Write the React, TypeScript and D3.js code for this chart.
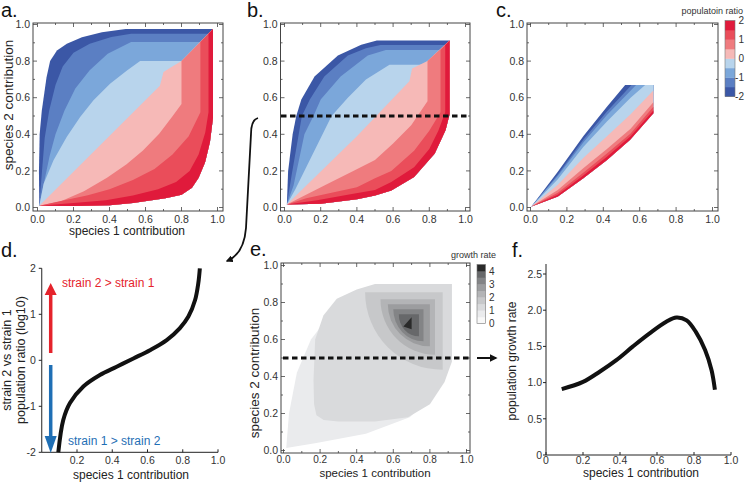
import React from "react";
import * as d3 from "d3";

type P = [number, number];
const FONT = "'Liberation Sans', Arial, Helvetica, sans-serif";

// ---------- colour scales ----------
const ratioColors = ["#3b57a6", "#5b7fc3", "#7ba7da", "#b8d4ec", "#f6b9b7", "#ef7b7e", "#ea4d5a", "#e01a3b"];
const ratioLegendTicks = [-2, -1, 0, 1, 2];
const growthColors = ["#f8f8f8", "#eaebed", "#d9dadc", "#c7c8ca", "#b3b4b6", "#9c9d9f", "#838486", "#67686a", "#2a2a2a"];
const growthLegendTicks = [0, 1, 2, 3, 4];
const unitTicks = [0, 0.2, 0.4, 0.6, 0.8, 1.0];

// ---------- panel a: contour boundaries (origin -> top-right corner) ----------
const aB0: P[] = [[0.01, 0.01], [0.008, 0.2], [0.012, 0.4], [0.024, 0.53], [0.05, 0.71], [0.07, 0.8], [0.108, 0.858], [0.163, 0.895], [0.247, 0.931], [0.358, 0.958], [0.49, 0.975], [0.975, 0.975]];
const aB1: P[] = [[0.01, 0.01], [0.025, 0.2], [0.04, 0.38], [0.065, 0.53], [0.1, 0.67], [0.14, 0.77], [0.2, 0.845], [0.29, 0.895], [0.41, 0.932], [0.52, 0.95], [0.95, 0.95], [0.975, 0.975]];
const aB2: P[] = [[0.01, 0.01], [0.035, 0.13], [0.067, 0.28], [0.1, 0.4], [0.15, 0.53], [0.21, 0.65], [0.29, 0.75], [0.39, 0.84], [0.52, 0.905], [0.905, 0.905], [0.975, 0.975]];
const aB3: P[] = [[0.01, 0.01], [0.034, 0.13], [0.089, 0.258], [0.163, 0.386], [0.237, 0.495], [0.311, 0.586], [0.403, 0.676], [0.497, 0.749], [0.57, 0.8], [0.8, 0.8], [0.975, 0.975]];
const aB4: P[] = [[0.01, 0.01], [0.68, 0.665], [0.7, 0.74], [0.74, 0.765], [0.8, 0.8], [0.975, 0.975]];
const aB5: P[] = [[0.01, 0.01], [0.13, 0.034], [0.258, 0.089], [0.386, 0.163], [0.495, 0.237], [0.586, 0.311], [0.676, 0.403], [0.749, 0.497], [0.8, 0.565], [0.8, 0.8], [0.975, 0.975]];
const aB6: P[] = [[0.01, 0.01], [0.13, 0.035], [0.28, 0.067], [0.4, 0.1], [0.53, 0.15], [0.65, 0.21], [0.75, 0.29], [0.84, 0.39], [0.905, 0.52], [0.905, 0.905], [0.975, 0.975]];
const aB7: P[] = [[0.01, 0.01], [0.2, 0.025], [0.38, 0.04], [0.53, 0.065], [0.67, 0.1], [0.77, 0.14], [0.845, 0.2], [0.895, 0.29], [0.932, 0.41], [0.95, 0.52], [0.95, 0.95], [0.975, 0.975]];
const aB8: P[] = [[0.01, 0.01], [0.2, 0.008], [0.4, 0.012], [0.53, 0.024], [0.71, 0.05], [0.8, 0.07], [0.858, 0.108], [0.895, 0.163], [0.931, 0.247], [0.958, 0.358], [0.975, 0.49], [0.975, 0.975]];

// ---------- panel b ----------
const bB0: P[] = [[0.013, 0.017], [0.02, 0.2], [0.045, 0.4], [0.065, 0.5], [0.093, 0.59], [0.166, 0.716], [0.295, 0.83], [0.424, 0.89], [0.51, 0.912], [0.912, 0.912]];
const bB1: P[] = [[0.013, 0.017], [0.04, 0.18], [0.075, 0.38], [0.096, 0.5], [0.14, 0.59], [0.22, 0.716], [0.35, 0.83], [0.45, 0.87], [0.53, 0.888], [0.888, 0.888], [0.912, 0.912]];
const bB2: P[] = [[0.013, 0.017], [0.05, 0.12], [0.08, 0.26], [0.11, 0.4], [0.16, 0.5], [0.2, 0.59], [0.31, 0.716], [0.46, 0.83], [0.56, 0.86], [0.86, 0.86], [0.912, 0.912]];
const bB3: P[] = [[0.013, 0.017], [0.06, 0.1], [0.12, 0.22], [0.2, 0.38], [0.26, 0.5], [0.35, 0.6], [0.45, 0.7], [0.58, 0.78], [0.77, 0.78], [0.79, 0.8], [0.912, 0.912]];
const bB4: P[] = [[0.013, 0.017], [0.4, 0.39], [0.69, 0.69], [0.705, 0.76], [0.79, 0.8], [0.912, 0.912]];
const bB5: P[] = [[0.013, 0.017], [0.1, 0.06], [0.22, 0.12], [0.38, 0.2], [0.5, 0.26], [0.6, 0.35], [0.7, 0.45], [0.79, 0.58], [0.79, 0.8], [0.912, 0.912]];
const bB6: P[] = [[0.013, 0.017], [0.12, 0.05], [0.26, 0.08], [0.4, 0.11], [0.5, 0.16], [0.59, 0.2], [0.716, 0.31], [0.8, 0.42], [0.862, 0.52], [0.862, 0.86], [0.912, 0.912]];
const bB7: P[] = [[0.013, 0.017], [0.18, 0.04], [0.38, 0.075], [0.5, 0.096], [0.59, 0.14], [0.716, 0.22], [0.8, 0.32], [0.85, 0.42], [0.888, 0.52], [0.888, 0.888], [0.912, 0.912]];
const bB8: P[] = [[0.013, 0.017], [0.2, 0.02], [0.4, 0.045], [0.5, 0.065], [0.59, 0.093], [0.716, 0.166], [0.83, 0.295], [0.89, 0.424], [0.912, 0.51], [0.912, 0.912]];

// ---------- panel c ----------
const cB0: P[] = [[0.005, 0.005], [0.15, 0.195], [0.29, 0.39], [0.42, 0.55], [0.52, 0.67], [0.675, 0.67]];
const cB1: P[] = [[0.005, 0.005], [0.15, 0.18], [0.29, 0.37], [0.42, 0.525], [0.555, 0.67], [0.675, 0.67]];
const cB2: P[] = [[0.005, 0.005], [0.15, 0.172], [0.29, 0.355], [0.42, 0.505], [0.58, 0.67], [0.675, 0.67]];
const cB3: P[] = [[0.005, 0.005], [0.15, 0.155], [0.29, 0.33], [0.42, 0.47], [0.55, 0.6], [0.63, 0.67], [0.675, 0.67]];
const cB4: P[] = [[0.005, 0.005], [0.15, 0.125], [0.29, 0.27], [0.42, 0.39], [0.55, 0.51], [0.675, 0.64], [0.675, 0.67]];
const cB5: P[] = [[0.005, 0.005], [0.15, 0.095], [0.29, 0.215], [0.42, 0.32], [0.55, 0.43], [0.675, 0.575], [0.675, 0.67]];
const cB6: P[] = [[0.005, 0.005], [0.15, 0.08], [0.29, 0.19], [0.42, 0.295], [0.55, 0.405], [0.675, 0.55], [0.675, 0.67]];
const cB7: P[] = [[0.005, 0.005], [0.15, 0.07], [0.29, 0.175], [0.42, 0.278], [0.55, 0.39], [0.675, 0.53], [0.675, 0.67]];
const cB8: P[] = [[0.005, 0.005], [0.15, 0.06], [0.29, 0.16], [0.42, 0.26], [0.547, 0.37], [0.675, 0.515], [0.675, 0.67]];

// ---------- panel d ----------
const dX = [0.094, 0.122, 0.16, 0.236, 0.33, 0.425, 0.52, 0.614, 0.709, 0.784, 0.832, 0.87, 0.888, 0.897];
const dY = [-2.0, -1.3, -0.93, -0.57, -0.32, -0.14, 0.04, 0.22, 0.44, 0.7, 0.95, 1.31, 1.67, 2.0];
const dYTicks = [-2, -1, 0, 1, 2];
const dXTicks = [0.2, 0.4, 0.6, 0.8, 1.0];

// ---------- panel e: growth-rate contours ----------
const eL1: P[] = [[0.015, 0.013], [0.03, 0.2], [0.073, 0.42], [0.15, 0.6], [0.29, 0.78], [0.42, 0.87], [0.51, 0.9], [0.92, 0.9], [0.92, 0.51], [0.85, 0.33], [0.69, 0.18], [0.45, 0.09], [0.18, 0.04]];
const eL2: P[] = [[0.164, 0.38], [0.173, 0.6], [0.218, 0.73], [0.291, 0.82], [0.4, 0.87], [0.5, 0.9], [0.92, 0.9], [0.92, 0.48], [0.88, 0.37], [0.8, 0.25], [0.68, 0.18], [0.5, 0.157], [0.3, 0.157], [0.22, 0.165], [0.18, 0.19], [0.167, 0.25]];
// quarter-shaped inner contours: left, top, right, bottom
const eLeft = [0.446, 0.53, 0.57, 0.6, 0.63];
const eTop = [0.855, 0.818, 0.79, 0.763, 0.736];
const eRight = [0.87, 0.828, 0.8, 0.765, 0.74];
const eBottom = [0.436, 0.517, 0.563, 0.59, 0.617];
const ePeak: P[] = [[0.655, 0.67], [0.7, 0.72], [0.7, 0.655]];

// ---------- panel f ----------
const fX = [0.085, 0.2, 0.29, 0.38, 0.47, 0.56, 0.65, 0.705, 0.76, 0.81, 0.86, 0.895, 0.913];
const fY = [0.91, 1.01, 1.15, 1.31, 1.5, 1.68, 1.84, 1.9, 1.86, 1.7, 1.45, 1.17, 0.9];
const fYTicks = [0, 0.5, 1.0, 1.5, 2.0, 2.5];
const fXTicks = [0, 0.2, 0.4, 0.6, 0.8, 1.0];

type Lin = d3.ScaleLinear<number, number>;

function bandPaths(bounds: P[][], xs: Lin, ys: Lin) {
  const line = d3.line<P>().x((d) => xs(d[0])).y((d) => ys(d[1]));
  const outer = bounds[bounds.length - 1];
  return bounds.slice(0, -1).map((b) => line([...b, ...outer.slice().reverse()]) + "Z");
}

function Frame({ xs, ys, box, lab, fs }: { xs: Lin; ys: Lin; box: [number, number, number, number]; lab: number; fs: number }) {
  const [x0, x1, y0, y1] = box;
  const minor = d3.range(0, 1.0001, 0.1);
  return (
    <g>
      {minor.map((t, i) => {
        const L = i % 2 === 0 ? 4 : 2;
        return (
          <g key={i} stroke="#444" strokeWidth={0.8}>
            <line x1={xs(t)} x2={xs(t)} y1={y1} y2={y1 - L} />
            <line x1={xs(t)} x2={xs(t)} y1={y0} y2={y0 + L} />
            <line y1={ys(t)} y2={ys(t)} x1={x0} x2={x0 + L} />
            <line y1={ys(t)} y2={ys(t)} x1={x1} x2={x1 - L} />
          </g>
        );
      })}
      <rect x={x0} y={y0} width={x1 - x0} height={y1 - y0} fill="none" stroke="#444" strokeWidth={1} />
      {unitTicks.map((t) => (
        <text key={"x" + t} x={xs(t)} y={y1 + lab} fontSize={fs} textAnchor="middle" fill="#333">
          {t.toFixed(1)}
        </text>
      ))}
      {unitTicks.map((t) => (
        <text key={"y" + t} x={x0 - 3} y={ys(t) + 3.7} fontSize={10.5} textAnchor="end" fill="#333">
          {t.toFixed(1)}
        </text>
      ))}
    </g>
  );
}

export default function App() {
  const axA = d3.scaleLinear().domain([0, 1]).range([37.5, 217.5]);
  const ayA = d3.scaleLinear().domain([0, 1]).range([207.5, 24.5]);
  const axB = d3.scaleLinear().domain([0, 1]).range([284.5, 465.5]);
  const axC = d3.scaleLinear().domain([0, 1]).range([530.5, 712.5]);
  const axE = d3.scaleLinear().domain([0, 1]).range([283.5, 466.5]);
  const ayE = d3.scaleLinear().domain([0, 1]).range([450.5, 265.5]);
  const xD = d3.scaleLinear().domain([0, 1]).range([41.75, 218]);
  const yD = d3.scaleLinear().domain([-2, 2]).range([452.3, 268.3]);
  const xF = d3.scaleLinear().domain([0, 1]).range([546, 731]);
  const yF = d3.scaleLinear().domain([0, 2.5]).range([455, 274]);

  const aPaths = bandPaths([aB0, aB1, aB2, aB3, aB4, aB5, aB6, aB7, aB8], axA, ayA);
  const bPaths = bandPaths([bB0, bB1, bB2, bB3, bB4, bB5, bB6, bB7, bB8], axB, ayA);
  const cPaths = bandPaths([cB0, cB1, cB2, cB3, cB4, cB5, cB6, cB7, cB8], axC, ayA);

  const polyE = d3.line<P>().x((d) => axE(d[0])).y((d) => ayE(d[1])).curve(d3.curveLinearClosed);
  const quarter = (i: number) => {
    const xl = axE(eLeft[i]), yt = ayE(eTop[i]), xr = axE(eRight[i]), yb = ayE(eBottom[i]);
    return `M${xl},${yt}L${xr},${yt}L${xr},${yb}A${xr - xl},${yb - yt} 0 0 1 ${xl},${yt}Z`;
  };

  const dLine = d3.line<number>().x((_, i) => xD(dX[i])).y((d) => yD(d)).curve(d3.curveCatmullRom);
  const fLine = d3.line<number>().x((_, i) => xF(fX[i])).y((d) => yF(d)).curve(d3.curveCatmullRom);

  const legendC = d3.scaleLinear().domain([-2, 2]).range([96.5, 20.5]);
  const legendE = d3.scaleLinear().domain([0, 4.5]).range([323.5, 264.5]);

  return (
    <svg width={745} height={483} style={{ position: "absolute", left: 0, top: 0, background: "#fff" }} fontFamily={FONT}>
      <defs>
        <marker id="ah" viewBox="0 0 10 10" refX="8" refY="5" markerWidth="4" markerHeight="4" orient="auto">
          <path d="M0,0L10,5L0,10Z" fill="#111" />
        </marker>
      </defs>
      <rect width={745} height={483} fill="#fff" />

      <g fontSize={20} fill="#111">
        <text x={1} y={17}>a.</text>
        <text x={247} y={17}>b.</text>
        <text x={496} y={17}>c.</text>
        <text x={1} y={257}>d.</text>
        <text x={250} y={256}>e.</text>
        <text x={512} y={257}>f.</text>
      </g>

      {/* panel a */}
      <g>
        {aPaths.map((p, i) => <path key={i} d={p} fill={ratioColors[i]} />)}
        <Frame xs={axA} ys={ayA} box={[33, 223, 23, 211]} lab={12} fs={10.5} />
        <text x={127} y={235} fontSize={12} textAnchor="middle" fill="#222">species 1 contribution</text>
        <text transform="translate(13,105) rotate(-90)" fontSize={13.5} textAnchor="middle" fill="#222">species 2 contribution</text>
      </g>

      {/* panel b */}
      <g>
        {bPaths.map((p, i) => <path key={i} d={p} fill={ratioColors[i]} />)}
        <Frame xs={axB} ys={ayA} box={[280.5, 470, 23, 211]} lab={12} fs={10.5} />
        <line x1={281} x2={470} y1={ayA(0.5)} y2={ayA(0.5)} stroke="#111" strokeWidth={3} strokeDasharray="5.5,3.5" />
      </g>

      {/* panel c */}
      <g>
        {cPaths.map((p, i) => <path key={i} d={p} fill={ratioColors[i]} />)}
        <Frame xs={axC} ys={ayA} box={[527, 718, 23, 211]} lab={12} fs={10.5} />
        {ratioColors.map((c, i) => (
          <rect key={i} x={725} width={10} y={legendC(-2 + (i + 1) * 0.5)} height={legendC(-2 + i * 0.5) - legendC(-2 + (i + 1) * 0.5) + 0.3} fill={c} />
        ))}
        <rect x={725} y={20.5} width={10} height={76} fill="none" stroke="#777" strokeWidth={0.6} />
        {ratioLegendTicks.map((t) => (
          <text key={t} x={744} y={legendC(t) + 3.5} fontSize={10} textAnchor="end" fill="#333">{t}</text>
        ))}
        <text x={743} y={13.5} fontSize={9} textAnchor="end" fill="#333">populatoin ratio</text>
      </g>

      {/* connector b -> d */}
      <path d="M258,118 Q251,120 251,134 L246,228 Q244,254 227,261" fill="none" stroke="#111" strokeWidth={1.8} markerEnd="url(#ah)" />

      {/* panel d */}
      <g>
        <line x1={xD(0)} x2={xD(0)} y1={yD(2)} y2={yD(-2)} stroke="#222" strokeWidth={1} />
        <line x1={xD(0)} x2={xD(1)} y1={yD(-2)} y2={yD(-2)} stroke="#222" strokeWidth={1} />
        {dYTicks.map((t) => (
          <g key={t}>
            <line x1={xD(0) - 3} x2={xD(0)} y1={yD(t)} y2={yD(t)} stroke="#222" />
            <text x={xD(0) - 6} y={yD(t) + 3.7} fontSize={10.5} textAnchor="end" fill="#333">{t}</text>
          </g>
        ))}
        {dXTicks.map((t) => (
          <g key={t}>
            <line x1={xD(t)} x2={xD(t)} y1={yD(-2)} y2={yD(-2) - 3} stroke="#222" />
            <text x={xD(t)} y={yD(-2) + 12} fontSize={10.5} textAnchor="middle" fill="#333">{t.toFixed(1)}</text>
          </g>
        ))}
        <path d={dLine(dY) || ""} fill="none" stroke="#111" strokeWidth={4} />
        <line x1={50.7} x2={50.7} y1={353} y2={293} stroke="#e5232b" strokeWidth={3.5} />
        <path d="M44.7,295 L50.7,283 L56.7,295 Z" fill="#e5232b" />
        <text x={62} y={287} fontSize={12} fill="#e5232b">strain 2 &gt; strain 1</text>
        <line x1={50.7} x2={50.7} y1={365} y2={438} stroke="#1f6fb5" strokeWidth={3.5} />
        <path d="M44.7,436 L50.7,453 L56.7,436 Z" fill="#1f6fb5" />
        <text x={68} y={445} fontSize={12} fill="#1f6fb5">strain 1 &gt; strain 2</text>
        <text x={131} y={479} fontSize={12} textAnchor="middle" fill="#222">species 1 contribution</text>
        <text transform="translate(11,360) rotate(-90)" fontSize={12.5} textAnchor="middle" fill="#222">strain 2 vs strain 1</text>
        <text transform="translate(25,360) rotate(-90)" fontSize={12.5} textAnchor="middle" fill="#222">population ratio (log10)</text>
      </g>

      {/* panel e */}
      <g>
        <path d={polyE(eL1) || ""} fill={growthColors[1]} />
        <path d={polyE(eL2) || ""} fill={growthColors[2]} />
        {eLeft.map((_, i) => <path key={i} d={quarter(i)} fill={growthColors[3 + i]} />)}
        <path d={polyE(ePeak) || ""} fill={growthColors[8]} />
        <Frame xs={axE} ys={ayE} box={[281, 470, 263, 453]} lab={10} fs={10} />
        <line x1={283} x2={471} y1={ayE(0.5)} y2={ayE(0.5)} stroke="#111" strokeWidth={3} strokeDasharray="5.5,3.5" />
        <line x1={477} x2={496} y1={ayE(0.5)} y2={ayE(0.5)} stroke="#111" strokeWidth={2} markerEnd="url(#ah)" />
        {growthColors.map((c, i) => (
          <rect key={i} x={477} width={8.5} y={legendE((i + 1) * 0.5)} height={legendE(i * 0.5) - legendE((i + 1) * 0.5) + 0.3} fill={c} />
        ))}
        <rect x={477} y={264.5} width={8.5} height={59} fill="none" stroke="#777" strokeWidth={0.6} />
        {growthLegendTicks.map((t) => (
          <text key={t} x={489} y={legendE(t) + 3.5} fontSize={10} fill="#333">{t}</text>
        ))}
        <text x={496} y={258} fontSize={9} textAnchor="end" fill="#333">growth rate</text>
        <text x={375} y={476.5} fontSize={11.5} textAnchor="middle" fill="#222">species 1 contribution</text>
        <text transform="translate(259,373) rotate(-90)" fontSize={13.5} textAnchor="middle" fill="#222">species 2 contribution</text>
      </g>

      {/* panel f */}
      <g>
        <line x1={xF(0)} x2={xF(0)} y1={264} y2={yF(0)} stroke="#222" strokeWidth={1} />
        <line x1={xF(0)} x2={xF(1)} y1={yF(0)} y2={yF(0)} stroke="#222" strokeWidth={1} />
        {fYTicks.map((t) => (
          <g key={t}>
            <line x1={xF(0) - 3} x2={xF(0)} y1={yF(t)} y2={yF(t)} stroke="#222" />
            <text x={xF(0) - 4} y={yF(t) + 3.7} fontSize={10.5} textAnchor="end" fill="#333">{t === 0 ? "0" : t.toFixed(1)}</text>
          </g>
        ))}
        {fXTicks.map((t) => (
          <g key={t}>
            <line x1={xF(t)} x2={xF(t)} y1={yF(0)} y2={yF(0) - 3} stroke="#222" />
            <text x={xF(t)} y={yF(0) + 9} fontSize={10.5} textAnchor="middle" fill="#333">{t === 0 ? "0" : t.toFixed(1)}</text>
          </g>
        ))}
        <path d={fLine(fY) || ""} fill="none" stroke="#111" strokeWidth={4} />
        <text x={641} y={476.5} fontSize={12} textAnchor="middle" fill="#222">species 1 contribution</text>
        <text transform="translate(516,361) rotate(-90)" fontSize={12} textAnchor="middle" fill="#222">population growth rate</text>
      </g>
    </svg>
  );
}
